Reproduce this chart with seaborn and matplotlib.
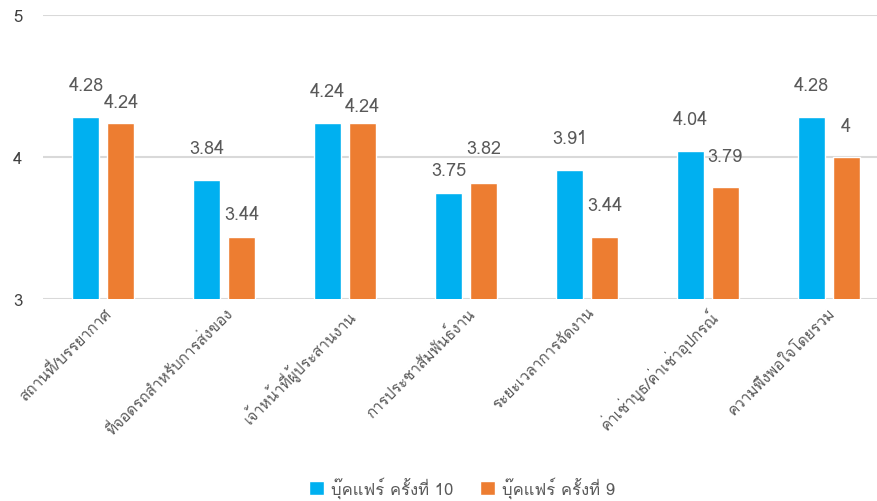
import numpy as np
import pandas as pd
import seaborn as sns
import matplotlib
matplotlib.use("Agg")
import matplotlib.pyplot as plt
from matplotlib import font_manager
from matplotlib.ft2font import FT2Font

# Data
categories = [
    "สถานที่/บรรยากาศ",
    "ที่จอดรถสำหรับการส่งของ",
    "เจ้าหน้าที่ผู้ประสานงาน",
    "การประชาสัมพันธ์งาน",
    "ระยะเวลาการจัดงาน",
    "ค่าเช่าบูธ/ค่าเช่าอุปกรณ์",
    "ความพึงพอใจโดยรวม",
]
series_names = ["บุ๊คแฟร์ ครั้งที่ 10", "บุ๊คแฟร์ ครั้งที่ 9"]
fair10 = [4.28, 3.84, 4.24, 3.75, 3.91, 4.04, 4.28]
fair9 = [4.24, 3.44, 4.24, 3.82, 3.44, 3.79, 4.00]

# label lift above bar top (pixels), labels were hand placed in the original
lift10 = [32, 32, 32, 22, 32, 32, 32]
lift9 = [21, 23, 17, 35, 32, 31, 31]

colors = ["#00B0F0", "#ED7D31"]
grey = "#595959"


def thai_font():
    # look for any installed font that can draw Thai
    for f in font_manager.fontManager.ttflist:
        try:
            ft = FT2Font(f.fname)
            if ft.get_char_index(ord("ก")) and ft.get_char_index(ord("4")):
                return f.name
        except Exception:
            pass
    return None


sns.set_style("white")
fam = thai_font()
plt.rcParams["font.family"] = ([fam] if fam else []) + ["DejaVu Sans"]

df = pd.DataFrame({
    "category": categories * 2,
    "score": fair10 + fair9,
    "fair": [series_names[0]] * len(categories) + [series_names[1]] * len(categories),
})

fig = plt.figure(figsize=(8.77, 5.02), dpi=100)
ax = fig.add_axes([43 / 877, 202 / 502, 846 / 877, 284 / 502])

sns.barplot(data=df, x="category", y="score", hue="fair", hue_order=series_names,
            palette=colors, width=0.58, gap=0.23, saturation=1, ax=ax, legend=True)

ax.set_ylim(3, 5)
ax.set_xlim(-0.5, 6.5)
ax.set_yticks([3, 4, 5])
ax.yaxis.grid(True, color="#D9D9D9", linewidth=1.5)
ax.set_axisbelow(True)
for s in ax.spines.values():
    s.set_visible(False)
ax.set_xlabel("")
ax.set_ylabel("")
ax.tick_params(axis="y", length=0, pad=15, labelsize=12, labelcolor="#404040")
ax.tick_params(axis="x", length=0, pad=4, labelsize=11, labelcolor=grey)
for lab in ax.get_xticklabels():
    lab.set_rotation(45)
    lab.set_ha("right")
    lab.set_rotation_mode("anchor")

for cont, vals, lifts in zip(ax.containers, [fair10, fair9], [lift10, lift9]):
    for bar, v, lf in zip(cont, vals, lifts):
        txt = f"{v:g}"
        ax.annotate(txt, (bar.get_x() + bar.get_width() / 2, v), xytext=(0, lf),
                    textcoords="offset pixels", ha="center", va="center",
                    fontsize=13, color=grey, annotation_clip=False)

handles, labels = ax.get_legend_handles_labels()
ax.legend(handles, labels, loc="center", bbox_to_anchor=(462 / 877, 1 - 488 / 502),
          bbox_transform=fig.transFigure, ncol=2, frameon=False, fontsize=12,
          handlelength=0.9, handleheight=0.9, columnspacing=1.6, handletextpad=0.4,
          labelcolor=grey)

fig.savefig("out.png", dpi=100)
